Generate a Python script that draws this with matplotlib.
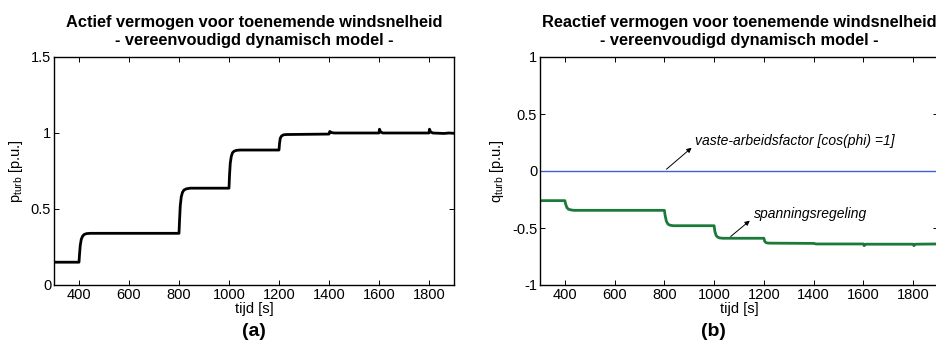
import matplotlib
matplotlib.use("Agg")
import matplotlib.pyplot as plt

plt.rcParams['font.family'] = ['Liberation Sans', 'DejaVu Sans']

# Active power p_turb
t_p = [300, 400, 402, 405, 409, 414, 420, 430, 445, 800, 802, 805, 809, 814, 820, 830, 845,
       1000, 1002, 1005, 1009, 1014, 1020, 1030, 1045, 1200, 1202, 1205, 1210, 1218, 1230,
       1400, 1403, 1410, 1420, 1600, 1602, 1606, 1615, 1800, 1802, 1806, 1815, 1860, 1880, 1900]
p_turb = [0.15, 0.15, 0.20, 0.26, 0.30, 0.32, 0.332, 0.338, 0.34, 0.34, 0.42, 0.52, 0.58, 0.61, 0.625, 0.633, 0.637,
          0.637, 0.72, 0.80, 0.845, 0.87, 0.88, 0.886, 0.888, 0.888, 0.93, 0.965, 0.98, 0.988, 0.99,
          0.993, 1.01, 1.003, 1.0, 1.0, 1.025, 1.008, 1.0, 1.0, 1.025, 1.008, 1.0, 0.997, 1.0, 0.998]

# Reactive power q_turb
t_q = [300, 400, 403, 408, 414, 422, 435, 800, 803, 808, 814, 822, 835,
       1000, 1003, 1008, 1014, 1022, 1035, 1200, 1203, 1208, 1215, 1230,
       1400, 1410, 1600, 1603, 1610, 1800, 1803, 1810, 1900]
q_turb = [-0.26, -0.26, -0.29, -0.32, -0.335, -0.34, -0.345, -0.345, -0.39, -0.44, -0.465, -0.475, -0.48,
          -0.48, -0.53, -0.565, -0.58, -0.587, -0.59, -0.59, -0.615, -0.628, -0.632, -0.633,
          -0.635, -0.64, -0.64, -0.655, -0.642, -0.642, -0.655, -0.642, -0.64]
t_q0 = [300, 1900]
q_const = [0.0, 0.0]

xticks = [400, 600, 800, 1000, 1200, 1400, 1600, 1800]

W, H = 937, 342
fig = plt.figure(figsize=(W / 100, H / 100), dpi=100)

def px_axes(x0, y0, x1, y1):
    return fig.add_axes([x0 / W, 1 - y1 / H, (x1 - x0) / W, (y1 - y0) / H])

ax1 = px_axes(54, 57, 454, 285)
ax2 = px_axes(540, 57, 938, 285)

for ax in (ax1, ax2):
    ax.set_xlim(300, 1900)
    ax.set_xticks(xticks)
    ax.tick_params(direction='in', top=True, right=True, labelsize=10.5, length=3.5, width=0.7, pad=2)
    for s in ax.spines.values():
        s.set_linewidth(1.0)
    ax.set_xlabel('tijd [s]', fontsize=10.5, labelpad=0)

title_kw = dict(fontsize=11.8, fontweight='bold', pad=9, linespacing=1.2)

ax1.plot(t_p, p_turb, color='black', lw=2.0)
ax1.set_ylim(0, 1.5)
ax1.set_yticks([0, 0.5, 1, 1.5])
ax1.set_yticklabels(['0', '0.5', '1', '1.5'])
ax1.set_ylabel('p$_{\\mathregular{turb}}$ [p.u.]', fontsize=10.5, labelpad=4)
ax1.set_title('Actief vermogen voor toenemende windsnelheid\n- vereenvoudigd dynamisch model -', **title_kw)

ax2.plot(t_q0, q_const, color='#3f63d0', lw=1.0)
ax2.plot(t_q, q_turb, color='#1b7a3a', lw=2.0)
ax2.set_ylim(-1, 1)
ax2.set_yticks([-1, -0.5, 0, 0.5, 1])
ax2.set_yticklabels(['-1', '-0.5', '0', '0.5', '1'])
ax2.set_ylabel('q$_{\\mathregular{turb}}$ [p.u.]', fontsize=10.5, labelpad=4)
ax2.set_title('Reactief vermogen voor toenemende windsnelheid\n- vereenvoudigd dynamisch model -', **title_kw)

ax2.annotate('', xy=(918, 0.22), xytext=(800, 0.0),
             arrowprops=dict(arrowstyle='-|>', color='black', lw=0.7, mutation_scale=7))
ax2.text(925, 0.26, 'vaste-arbeidsfactor [cos(phi) =1]', fontsize=10, style='italic',
         va='center', ha='left')
ax2.annotate('', xy=(1152, -0.42), xytext=(1058, -0.59),
             arrowprops=dict(arrowstyle='-|>', color='black', lw=0.7, mutation_scale=7))
ax2.text(1160, -0.38, 'spanningsregeling', fontsize=10, style='italic', va='center', ha='left')

fig.text(254 / W, 1 - 331 / H, '(a)', fontsize=14, fontweight='bold', ha='center', va='center')
fig.text(713 / W, 1 - 331 / H, '(b)', fontsize=14, fontweight='bold', ha='center', va='center')

fig.savefig('out.png', dpi=100)
